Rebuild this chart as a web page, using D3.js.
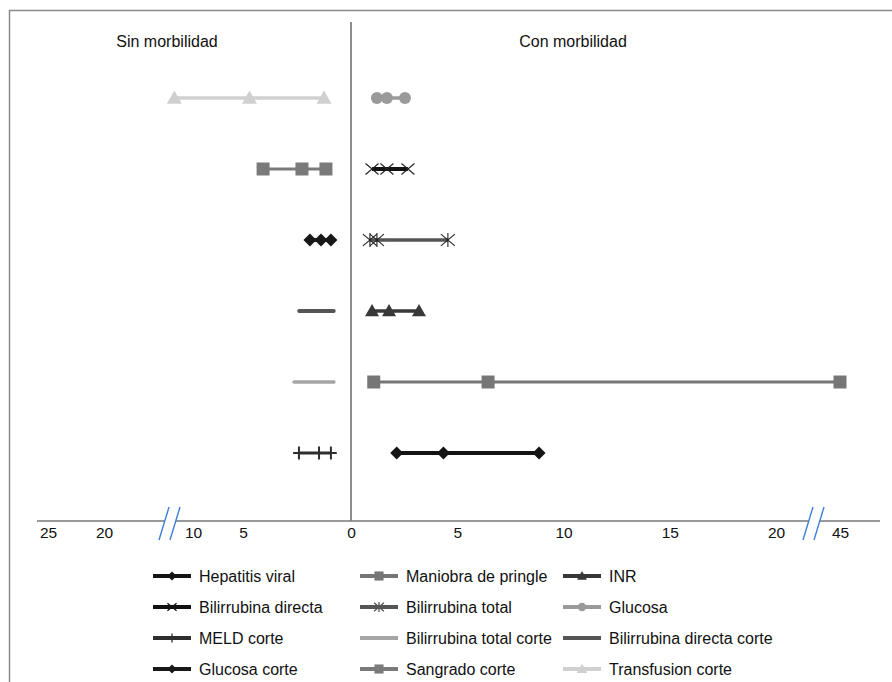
<!DOCTYPE html>
<html>
<head>
<meta charset="utf-8">
<script src="https://cdn.jsdelivr.net/npm/d3@7"></script>
<style>
    body { margin: 0; background: #fff; }
    text { font-family: "Liberation Sans", Arial, Helvetica, sans-serif; fill: #111; }
    .panel-title { font-size: 16px; }
    .legend text { font-size: 16px; }
</style>
</head>
<body>
<div id="chart"></div>
<script>
// values (min, middle, max), left side = sin morbilidad
const hepatitisViral = [2.15, 4.35, 8.85];
const maniobraPringle = [1.07, 6.45, 45];
const inr = [0.99, 1.79, 3.2];
const bilirrubinaDirecta = [0.99, 1.69, 2.68];
const bilirrubinaTotal = [0.89, 1.22, 4.56];
const glucosa = [1.22, 1.69, 2.54];
const meldCorte = [2.41, 1.48, 0.93];
const bilirrubinaTotalCorte = [2.64, 1.6, 0.79];
const bilirrubinaDirectaCorte = [2.4, 1.9, 0.8];
const glucosaCorte = [1.9, 1.39, 0.93];
const sangradoCorte = [4.07, 2.27, 1.16];
const transfusionCorte = [12.1, 4.7, 1.25];

// rows, top to bottom
const leftRows = ['Transfusion corte', 'Sangrado corte', 'Glucosa corte', 'Bilirrubina directa corte', 'Bilirrubina total corte', 'MELD corte'];
const rightRows = ['Glucosa', 'Bilirrubina directa', 'Bilirrubina total', 'INR', 'Maniobra de pringle', 'Hepatitis viral'];

// legend order (row by row)
const legendNames = ['Hepatitis viral', 'Maniobra de pringle', 'INR',
    'Bilirrubina directa', 'Bilirrubina total', 'Glucosa',
    'MELD corte', 'Bilirrubina total corte', 'Bilirrubina directa corte',
    'Glucosa corte', 'Sangrado corte', 'Transfusion corte'];

const xTicks = [-25, -20, -10, -5, 0, 5, 10, 15, 20, 45];
const panelTitles = ['Sin morbilidad', 'Con morbilidad'];

const seriesData = {
    'Hepatitis viral': hepatitisViral,
    'Maniobra de pringle': maniobraPringle,
    'INR': inr,
    'Bilirrubina directa': bilirrubinaDirecta,
    'Bilirrubina total': bilirrubinaTotal,
    'Glucosa': glucosa,
    'MELD corte': meldCorte,
    'Bilirrubina total corte': bilirrubinaTotalCorte,
    'Bilirrubina directa corte': bilirrubinaDirectaCorte,
    'Glucosa corte': glucosaCorte,
    'Sangrado corte': sangradoCorte,
    'Transfusion corte': transfusionCorte
};

// styles per series
const seriesStyle = {
    'Hepatitis viral': { color: '#141414', width: 4, marker: 'diamond', size: 6.5 },
    'Maniobra de pringle': { color: '#767676', width: 3, marker: 'square', size: 6.5 },
    'INR': { color: '#383838', width: 3.5, marker: 'triangle', size: 7 },
    'Bilirrubina directa': { color: '#111', width: 4, marker: 'times', size: 6.5 },
    'Bilirrubina total': { color: '#555', width: 3.5, marker: 'asterisk', size: 7 },
    'Glucosa': { color: '#9a9a9a', width: 3.5, marker: 'circle', size: 6 },
    'MELD corte': { color: '#2e2e2e', width: 3, marker: 'plus', size: 6.5 },
    'Bilirrubina total corte': { color: '#a5a5a5', width: 3.5, marker: null },
    'Bilirrubina directa corte': { color: '#555', width: 4, marker: null },
    'Glucosa corte': { color: '#181818', width: 4, marker: 'diamond', size: 6.5 },
    'Sangrado corte': { color: '#7a7a7a', width: 3, marker: 'square', size: 6.5 },
    'Transfusion corte': { color: '#d0d0d0', width: 3.5, marker: 'triangle', size: 7.5 }
};

function markerPath(type, s) {
    if (type === 'diamond') return `M0,${-s}L${s},0L0,${s}L${-s},0Z`;
    if (type === 'square') return `M${-s},${-s}H${s}V${s}H${-s}Z`;
    if (type === 'triangle') return `M0,${-s}L${s},${s * 0.75}L${-s},${s * 0.75}Z`;
    if (type === 'circle') return `M${s},0A${s},${s} 0 1,1 ${-s},0A${s},${s} 0 1,1 ${s},0Z`;
    if (type === 'times') return `M${-s},${-s * 0.85}L${s},${s * 0.85}M${-s},${s * 0.85}L${s},${-s * 0.85}`;
    if (type === 'plus') return `M0,${-s}V${s}M${-s * 0.9},0H${s * 0.9}`;
    if (type === 'asterisk') return `M${-s},${-s * 0.85}L${s},${s * 0.85}M${-s},${s * 0.85}L${s},${-s * 0.85}M0,${-s}V${s}`;
    return '';
}

function isStrokeMarker(type) {
    return type === 'times' || type === 'plus' || type === 'asterisk';
}

class RangeChart {
    constructor() {
        this._width = 892;
        this._height = 682;
        // broken axis: piecewise linear scale, left side negative
        this._xScale = d3.scaleLinear()
            .domain([-25, -20, -10, -5, 0, 20, 45])
            .range([48, 104, 193, 243, 351, 776, 840]);
        this._yScale = d3.scalePoint().padding(0);
        this._axisY = 521;
    }

    call(selection) {
        let outerThis = this;
        let x = outerThis._xScale;
        let y = outerThis._yScale.domain(d3.range(leftRows.length)).range([98, 453]);

        selection.each(function() {
            let svg = d3.select(this).append('svg')
                .attr('width', outerThis._width)
                .attr('height', outerThis._height);

            svg.append('rect')
                .attr('width', outerThis._width)
                .attr('height', outerThis._height)
                .attr('fill', '#fff');

            // frame (top + left only, rest is cropped)
            svg.append('path')
                .attr('d', `M9.5,${outerThis._height}V10.5H${outerThis._width}`)
                .attr('fill', 'none')
                .attr('stroke', '#8a8a8a')
                .attr('stroke-width', 1.5);

            svg.selectAll('.panel-title')
                .data(panelTitles)
                .enter()
                .append('text')
                .attr('class', 'panel-title')
                .attr('x', (d, i) => i === 0 ? 167 : 573)
                .attr('y', 47)
                .attr('text-anchor', 'middle')
                .text(d => d);

            // divider at zero
            svg.append('line')
                .attr('x1', x(0)).attr('x2', x(0))
                .attr('y1', 22).attr('y2', outerThis._axisY)
                .attr('stroke', '#8c8c8c')
                .attr('stroke-width', 2);

            // x axis
            let xAxis = d3.axisBottom(x)
                .tickValues(xTicks)
                .tickFormat(d => Math.abs(d))
                .tickSize(0)
                .tickPadding(6);

            let axisG = svg.append('g')
                .attr('class', 'axis')
                .attr('transform', `translate(0, ${outerThis._axisY})`)
                .call(xAxis);
            axisG.select('.domain').remove();
            axisG.attr('font-size', null).attr('font-family', null);
            axisG.selectAll('text')
                .attr('fill', '#111')
                .style('font-size', '15.5px');

            axisG.append('line')
                .attr('x1', 37).attr('x2', 880)
                .attr('stroke', '#777')
                .attr('stroke-width', 1.5);

            // break marks
            let breaks = [170, 814];
            breaks.forEach(c => {
                axisG.append('path')
                    .attr('d', `M${c - 11},19L${c - 1},-14L${c + 10},-14L${c},19Z`)
                    .attr('fill', '#fff');
                [-6, 5].forEach(o => {
                    axisG.append('line')
                        .attr('x1', c + o - 5).attr('y1', 19)
                        .attr('x2', c + o + 5).attr('y2', -14)
                        .attr('stroke', '#3d7fd9')
                        .attr('stroke-width', 1.4);
                });
            });

            // series rows
            let rows = [];
            leftRows.forEach((name, i) => rows.push({ name: name, row: i, sign: -1 }));
            rightRows.forEach((name, i) => rows.push({ name: name, row: i, sign: 1 }));

            let line = d3.line();

            let seriesG = svg.selectAll('.series')
                .data(rows)
                .enter()
                .append('g')
                .attr('class', 'series');

            seriesG.append('path')
                .attr('d', d => line(seriesData[d.name].map(v => [x(d.sign * v), y(d.row)])))
                .attr('fill', 'none')
                .attr('stroke', d => seriesStyle[d.name].color)
                .attr('stroke-width', d => seriesStyle[d.name].width)
                .attr('stroke-linecap', d => seriesStyle[d.name].marker ? 'butt' : 'round');

            seriesG.each(function(d) {
                let st = seriesStyle[d.name];
                if (!st.marker) return;
                let stroke = isStrokeMarker(st.marker);
                d3.select(this).selectAll('.marker')
                    .data(seriesData[d.name])
                    .enter()
                    .append('path')
                    .attr('class', 'marker')
                    .attr('transform', v => `translate(${x(d.sign * v)}, ${y(d.row)})`)
                    .attr('d', markerPath(st.marker, st.size))
                    .attr('fill', stroke ? 'none' : st.color)
                    .attr('stroke', stroke ? (st.marker === 'plus' ? st.color : '#222') : 'none')
                    .attr('stroke-width', stroke ? (st.marker === 'plus' ? 2 : 1.1) : 0);
            });

            // legend
            let legendX = [153, 360, 563];
            let legendY = [576, 607, 638, 669];
            let legend = svg.append('g').attr('class', 'legend');

            let item = legend.selectAll('.item')
                .data(legendNames)
                .enter()
                .append('g')
                .attr('class', 'item')
                .attr('transform', (d, i) => `translate(${legendX[i % 3]}, ${legendY[Math.floor(i / 3)]})`);

            item.append('line')
                .attr('x1', 0).attr('x2', 38)
                .attr('stroke', d => seriesStyle[d].color)
                .attr('stroke-width', 4);

            item.filter(d => seriesStyle[d].marker)
                .append('path')
                .attr('transform', 'translate(19, 0)')
                .attr('d', d => markerPath(seriesStyle[d].marker, seriesStyle[d].size * 0.7))
                .attr('fill', d => isStrokeMarker(seriesStyle[d].marker) ? 'none' : seriesStyle[d].color)
                .attr('stroke', d => isStrokeMarker(seriesStyle[d].marker) ? seriesStyle[d].color : 'none')
                .attr('stroke-width', d => isStrokeMarker(seriesStyle[d].marker) ? 1.3 : 0);

            item.append('text')
                .attr('x', 46)
                .attr('y', 6)
                .text(d => d);
        });
    }

    width(value) {
        if (value) {
            this._width = value;
        }
        return this;
    }

    height(value) {
        if (value) {
            this._height = value;
        }
        return this;
    }
}

let chart = new RangeChart().width(892).height(682);
d3.select('#chart').call(sel => chart.call(sel));
</script>
</body>
</html>
